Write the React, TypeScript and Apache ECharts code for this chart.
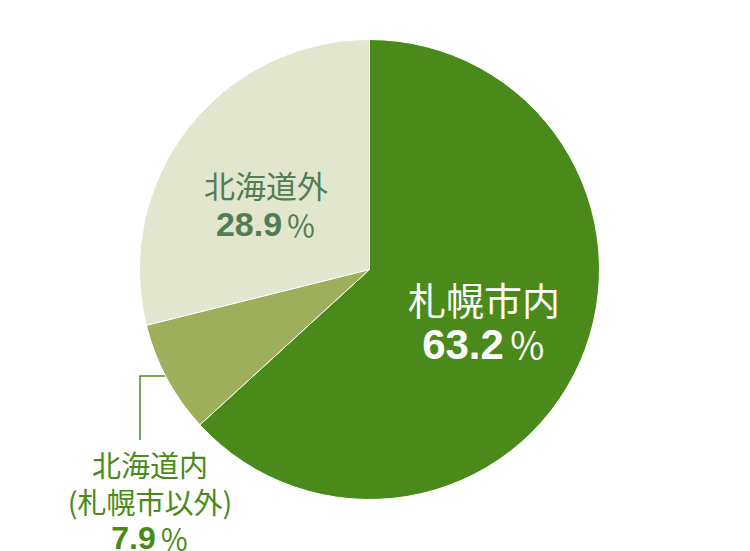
import React, { useEffect, useRef } from "react";
import * as echarts from "echarts";

// Data
const categories = ["札幌市内", "北海道内\n(札幌市以外)", "北海道外"];
const shares = [63.2, 7.9, 28.9];
const sliceColors = ["#4a8a1a", "#9daf5b", "#e2e6ce"];

const CJK = '"Noto Sans CJK JP", "Noto Sans", sans-serif';
const NUM = '"Liberation Sans", Arial, sans-serif';

// one set of rich styles per slice, with distinct token names
const labelSpecs = [
  { color: "#ffffff", nameSize: 38, numSize: 42, pctSize: 37, pctPad: 5, lineH: 46, x: 484, y: 321 },
  { color: "#4a8a1a", nameSize: 29, numSize: 32, pctSize: 29, pctPad: 4, lineH: 37, x: 150, y: 501 },
  { color: "#527c55", nameSize: 31, numSize: 34, pctSize: 30, pctPad: 4, lineH: 39, x: 266, y: 204 },
];

const App: React.FC = () => {
  const chartRef = useRef<HTMLDivElement>(null);

  useEffect(() => {
    if (!chartRef.current) return;
    const chart = echarts.init(chartRef.current, null, { renderer: "svg" });

    const rich: Record<string, any> = {};
    labelSpecs.forEach((s, i) => {
      rich[`n${i}`] = { color: s.color, fontFamily: CJK, fontSize: s.nameSize, lineHeight: s.lineH };
      rich[`v${i}`] = {
        color: s.color,
        fontFamily: NUM,
        fontWeight: "bold",
        fontSize: s.numSize,
        lineHeight: s.lineH,
      };
      rich[`p${i}`] = {
        color: s.color,
        fontFamily: CJK,
        fontSize: s.pctSize,
        lineHeight: s.lineH,
        padding: [0, 0, 0, s.pctPad],
      };
    });

    const option = {
      animation: false,
      series: [
        {
          type: "pie",
          center: [369.5, 269.5],
          radius: 230,
          startAngle: 90,
          clockwise: true,
          avoidLabelOverlap: false,
          itemStyle: { borderColor: "#ffffff", borderWidth: 1 },
          emphasis: { disabled: true },
          label: {
            show: true,
            position: "inside",
            align: "center",
            rich,
            formatter: (p: any) => {
              const i = p.dataIndex;
              const lines = String(p.name)
                .split("\n")
                .map((l: string) => `{n${i}|${l}}`)
                .join("\n");
              return `${lines}\n{v${i}|${Number(p.value).toFixed(1)}}{p${i}|％}`;
            },
          },
          labelLine: { show: false },
          labelLayout: (params: any) => {
            const s = labelSpecs[params.dataIndex];
            const out: any = { x: s.x, y: s.y, align: "center", verticalAlign: "middle" };
            if (params.dataIndex === 1) {
              out.labelLinePoints = [
                [193, 376],
                [140, 376],
                [140, 440],
              ];
            }
            return out;
          },
          data: categories.map((name, i) => ({
            name,
            value: shares[i],
            itemStyle: { color: sliceColors[i] },
            label: { position: i === 1 ? "outside" : "inside" },
            labelLine:
              i === 1
                ? { show: true, lineStyle: { color: "#4a8a1a", width: 1.5 } }
                : { show: false },
          })),
        },
      ],
    };

    chart.setOption(option as any);
    return () => chart.dispose();
  }, []);

  return (
    <div
      ref={chartRef}
      style={{ position: "absolute", left: 0, top: 0, width: 750, height: 551, background: "#fff" }}
    />
  );
};

export default App;
